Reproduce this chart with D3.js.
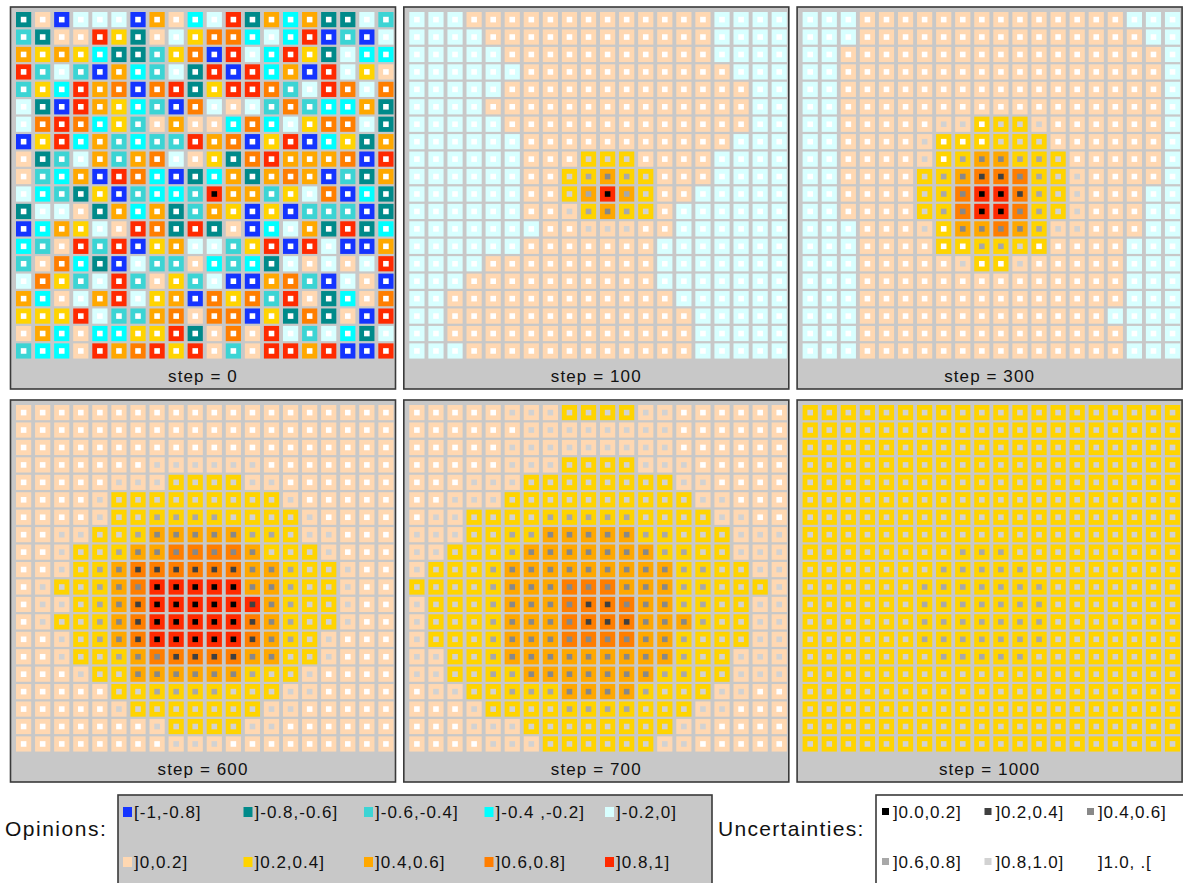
<!DOCTYPE html>
<html>
<head>
<meta charset="utf-8">
<script src="https://cdn.jsdelivr.net/npm/d3@7"></script>
<style>
  body { margin: 0; background: #ffffff; }
  svg { display: block; font-family: "Liberation Sans", Arial, sans-serif; }
</style>
</head>
<body>
<svg id="chart" width="1183" height="883"></svg>
<script>
// Opinion classes (cell fill) and uncertainty classes (inner square)
const opinionLabels = ["[-1,-0.8]", "]-0.8,-0.6]", "]-0.6,-0.4]", "]-0.4 ,-0.2]", "]-0.2,0]",
                       "]0,0.2]", "]0.2,0.4]", "]0.4,0.6]", "]0.6,0.8]", "]0.8,1]"];
const opinionColors = ["#1434ff", "#008a8a", "#3cd4d4", "#00ffff", "#d8ffff",
                       "#ffd8b2", "#ffd400", "#ffa800", "#ff7e00", "#ff2a00"];
const uncertaintyLabels = ["]0.0,0.2]", "]0.2,0.4]", "]0.4,0.6]", "]0.6,0.8]", "]0.8,1.0]", "]1.0, .["];
const uncertaintyColors = ["#000000", "#404040", "#888888", "#a8a8a8", "#d2d2d2", "#ffffff"];

const steps = [0, 100, 300, 600, 700, 1000];

// Grid states: one string per row, one digit per agent (column)
const opinionsStep0 = [
  "15044407534917371142", "21559615468834390204", "76763112680943961433", "92420732419093709465",
  "26397808916998249848", "41097632084542823371", "48983625755383468841", "06937232297806903617",
  "51247278456189777809", "52370983013717870217", "43216023329772648031", "14451737127606022201",
  "03764598191503471913", "32592906744269094007", "25831042253231454549", "48624925624007820450",
  "73547946708682951358", "66694227858806181509", "57353366915859424314", "23359789695259979009"
];
const uncertaintyStep0 = [
  "55555555555555555555", "55555555555555555555", "55555555555555555555", "55555555555555555555",
  "55555555555555555555", "55555555555555555555", "55555555555555555555", "55555555555555555555",
  "55555555555555555555", "55555555555555555555", "55555555550555555555", "55555555555555555555",
  "55555555555555555555", "55555555555555555555", "55555555555555555555", "55555555555555555555",
  "55555555555555555555", "55555555555555555555", "55555555555555555555", "55555555555555555555"
];

const opinionsStep100 = [
  "44455555555555554444", "44445555555555554444", "44444555555555554444", "44444455555555555444",
  "44444555555555555544", "44445555555555555544", "44444555555555555544", "44444455555555555444",
  "44444455566655554444", "44444455667665554444", "44444455679765544444", "44444455567665444444",
  "44444445555555444444", "44444455555554444444", "44445555555554444444", "44455555555554444444",
  "44555555555555444444", "44555555555555544444", "44555555555555544444", "44455555555555544444"
];
const uncertaintyStep100 = [
  "55555555555555555555", "55555555555555555555", "55555555555555555555", "55555555555555555555",
  "55555555555555555555", "55555555555555555555", "55555555555555555555", "55555555555555555555",
  "55555555544455555555", "55555555432345555555", "55555555430345555555", "55555555432345555555",
  "55555555544455555555", "55555555555555555555", "55555555555555555555", "55555555555555555555",
  "55555555555555555555", "55555555555555555555", "55555555555555555555", "55555555555555555555"
];

const opinionsStep300 = [
  "44455555555555555444", "44455555555555555544", "44555555555555555554", "44555555555555555554",
  "44555555555555555554", "44555555555555555554", "44555555566655555554", "44555556666665555554",
  "44555556677666555554", "44555566788866555554", "44555566899866555544", "44555566899866555544",
  "44455556778765555544", "44455556666665555444", "44455555566555555444", "44455555555555555444",
  "44455555555555555444", "44455555555555554444", "44455555555555555444", "44455555555555555444"
];
const uncertaintyStep300 = [
  "55555555555555555555", "55555555555555555555", "55555555555555555555", "55555555555555555555",
  "55555555555555555555", "55555555555555555555", "55555554454445555555", "55555545554445555555",
  "55555545322334555555", "55555543211234455555", "55555543200134455555", "55555543200234455555",
  "55555545222234455555", "55555555533455555555", "55555555455455555555", "55555555555555555555",
  "55555555555555555555", "55555555555555555555", "55555555555555555555", "55555555555555555555"
];

const opinionsStep600 = [
  "55555555555555555555", "55555555555555555555", "55555555555555555555", "55555555555555555555",
  "55555555666655555555", "55555666666666555555", "55555666666666655555", "55556667777766655555",
  "55566677888876665555", "55566788888877666555", "55666789999977666555", "55566789999997666555",
  "55666789999987666555", "55566789999987665555", "55566678888877665555", "55556677777766655555",
  "55555666666666555555", "55555566666665555555", "55555555666655555555", "55555555555555555555"
];
const uncertaintyStep600 = [
  "55555555555555555555", "55555555555555555555", "55555555555555555555", "55555554444445555555",
  "55555444444444555555", "55554444444444455555", "55554443333444445555", "55444432222233444555",
  "55444322222224444555", "55443211111122344455", "54443220000022344455", "54443210000012344455",
  "54443210000012344455", "55443210000012344555", "55444322111122444555", "55544422222234445555",
  "55555443333444445555", "55555444444444455555", "55555554444444555555", "55555555444555555555"
];

const opinionsStep700 = [
  "55555555666655555555", "55555555555555555555", "55555555555555555555", "55555555666655555555",
  "55555566666666555555", "55555666666666655555", "55566666666666665555", "55566667777766666555",
  "55666677777776666555", "56666777777777666655", "66666777888777666665", "56666777888877666655",
  "56666777888877766655", "56666777888877666655", "55666777777777666555", "55666677777776666555",
  "55566666777766665555", "55556666666666655555", "55555566666666555555", "55555556666665555555"
];
const uncertaintyStep700 = [
  "55555444444444555555", "55555544444444555555", "55555444444444555555", "55555444444444455555",
  "55544444444444445555", "55444444444444444555", "54444443333344444455", "44444332222233444444",
  "44444322222223344444", "44443222222222334444", "44443222222222334444", "44443222211222334444",
  "44443222211122234444", "44443222222222344444", "44443222222222344444", "44443322222223344444",
  "54444333222234444455", "55544444333344444555", "55544444444444445555", "55554444444444455555"
];

const opinionsStep1000 = [
  "66666666666666666666", "66666666666666666666", "66666666666666666666", "66666666666666666666",
  "66666666666666666666", "66666666666666666666", "66666666666666666666", "66666666666666666666",
  "66666666666666666666", "66666666666666666666", "66666666666666666666", "66666666666666666666",
  "66666666666666666666", "66666666666666666666", "66666666666666666666", "66666666666666666666",
  "66666666666666666666", "66666666666666666666", "66666666666666666666", "66666666666666666666"
];
const uncertaintyStep1000 = [
  "44444444444444444444", "44444444444444444444", "44444444444444444444", "44444444444444444444",
  "44444444444444444444", "44444444444444444444", "44444444444444444444", "44444444444444444444",
  "44444444333444444444", "44444443333344444444", "44444433333334444444", "44444433333334444444",
  "44444433333334444444", "44444433333334444444", "44444443333344444444", "44444444444444444444",
  "44444444444444444444", "44444444444444444444", "44444444444444444444", "44444444444444444444"
];

const opinionGrids = [opinionsStep0, opinionsStep100, opinionsStep300, opinionsStep600, opinionsStep700, opinionsStep1000];
const uncertaintyGrids = [uncertaintyStep0, uncertaintyStep100, uncertaintyStep300, uncertaintyStep600, uncertaintyStep700, uncertaintyStep1000];

const svg = d3.select("#chart");

const opinionColor = d3.scaleOrdinal().domain(d3.range(10)).range(opinionColors);
const uncertaintyColor = d3.scaleOrdinal().domain(d3.range(6)).range(uncertaintyColors);

// Panel placement: 3 columns x 2 rows
const panelW = 385, panelH = 382;
const panelX = d3.scaleLinear().domain([0, 2]).range([10.5, 797.1]);
const panelY = d3.scaleLinear().domain([0, 1]).range([7, 400]);

// Cell placement inside a panel
const N = 20;
const colX = d3.scaleLinear().domain([0, N]).range([5.5, 5.5 + N * 19.07]);
const rowY = d3.scaleLinear().domain([0, N]).range([5, 5 + N * 17.44]);
const cellW = 15.2, cellH = 15.2, innerS = 5.6;

const panels = steps.map((s, i) => ({
  step: s,
  px: panelX(i % 3),
  py: panelY(Math.floor(i / 3)),
  cells: opinionGrids[i].flatMap((row, r) =>
    row.split("").map((ch, c) => ({ r, c, o: +ch, u: +uncertaintyGrids[i][r][c] })))
}));

const pg = svg.selectAll("g.panel").data(panels).join("g")
  .attr("class", "panel")
  .attr("transform", d => `translate(${d.px},${d.py})`);

pg.append("rect")
  .attr("width", panelW).attr("height", panelH)
  .attr("fill", "#c8c8c8").attr("stroke", "#3a3a3a").attr("stroke-width", 1.6);

const cg = pg.selectAll("g.cell").data(d => d.cells).join("g")
  .attr("class", "cell")
  .attr("transform", d => `translate(${colX(d.c)},${rowY(d.r)})`);

cg.append("rect")
  .attr("width", cellW).attr("height", cellH)
  .attr("fill", d => opinionColor(d.o));

cg.append("rect")
  .attr("x", (cellW - innerS) / 2).attr("y", (cellH - innerS) / 2)
  .attr("width", innerS).attr("height", innerS)
  .attr("fill", d => uncertaintyColor(d.u));

pg.append("text")
  .attr("x", panelW / 2).attr("y", 375)
  .attr("text-anchor", "middle")
  .attr("font-size", 17).attr("letter-spacing", 1.1)
  .attr("fill", "#111")
  .text(d => `step = ${d.step}`);

// Opinion legend
svg.append("text").attr("x", 5).attr("y", 836)
  .attr("font-size", 21).attr("letter-spacing", 1.5).attr("fill", "#111")
  .text("Opinions:");

svg.append("rect").attr("x", 118).attr("y", 795).attr("width", 594).attr("height", 100)
  .attr("fill", "#c8c8c8").attr("stroke", "#3a3a3a").attr("stroke-width", 1.6);

const legX = d3.scaleLinear().domain([0, 4]).range([123, 605]);
const legY = d3.scaleLinear().domain([0, 1]).range([812, 862]);

const og = svg.selectAll("g.oleg").data(opinionLabels.map((l, i) => ({ l, i }))).join("g")
  .attr("class", "oleg")
  .attr("transform", d => `translate(${legX(d.i % 5)},${legY(Math.floor(d.i / 5))})`);
og.append("rect").attr("x", 0).attr("y", -5).attr("width", 9).attr("height", 10)
  .attr("fill", d => opinionColor(d.i));
og.append("text").attr("x", 11).attr("y", 6)
  .attr("font-size", 17).attr("letter-spacing", 1).attr("fill", "#111")
  .text(d => d.l);

// Uncertainty legend
svg.append("text").attr("x", 718).attr("y", 836)
  .attr("font-size", 21).attr("letter-spacing", 1.3).attr("fill", "#111")
  .text("Uncertainties:");

svg.append("rect").attr("x", 876).attr("y", 795).attr("width", 320).attr("height", 100)
  .attr("fill", "#ffffff").attr("stroke", "#3a3a3a").attr("stroke-width", 1.6);

const uLegX = d3.scaleLinear().domain([0, 2]).range([882, 1087]);
const ug = svg.selectAll("g.uleg").data(uncertaintyLabels.map((l, i) => ({ l, i }))).join("g")
  .attr("class", "uleg")
  .attr("transform", d => `translate(${uLegX(d.i % 3)},${legY(Math.floor(d.i / 3))})`);
ug.append("rect").attr("x", 0).attr("y", -4).attr("width", 7).attr("height", 7)
  .attr("fill", d => uncertaintyColor(d.i));
ug.append("text").attr("x", 11).attr("y", 6)
  .attr("font-size", 17).attr("letter-spacing", 0.8).attr("fill", "#111")
  .text(d => d.l);
</script>
</body>
</html>
